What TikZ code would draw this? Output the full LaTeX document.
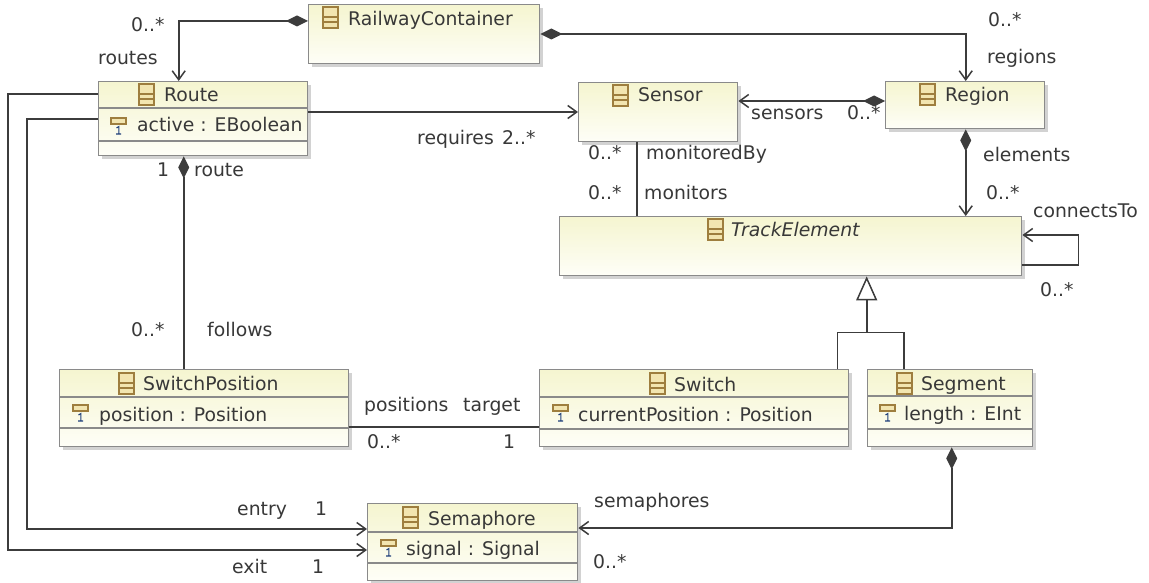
\documentclass[tikz,border=0pt]{standalone}
\usepackage{fontspec}
\setmainfont{DejaVu Sans}
\usetikzlibrary{arrows.meta,shadows}
\definecolor{linec}{HTML}{3C3C3C}
\definecolor{boxc}{HTML}{8A8A8A}
\definecolor{textc}{HTML}{383838}
\definecolor{iconc}{HTML}{9E7E3E}
\definecolor{iconf}{HTML}{F2E5B0}
\definecolor{boxtop}{HTML}{F5F5D0}
\definecolor{boxbot}{HTML}{FEFEF7}
\definecolor{shadowc}{HTML}{D2D2D2}
\definecolor{onec}{HTML}{1F3F7A}
\tikzset{
  cls/.style={draw=boxc, line width=1.4pt, top color=boxtop, bottom color=boxbot,
    inner sep=0pt, anchor=north west,
    drop shadow={shadow xshift=3pt, shadow yshift=-3pt, fill=shadowc, opacity=1}},
  compline/.style={draw=boxc, line width=1.4pt},
  txt/.style={anchor=base west, inner sep=0pt, text=textc},
  conn/.style={draw=linec, line width=1.6pt},
  barb/.style={-{Straight Barb[length=9pt,width=13pt,line width=1.5pt]}},
  compo/.style={{Diamond[length=22pt,width=11pt]}-{Straight Barb[length=9pt,width=13pt,line width=1.5pt]}},
  compoplain/.style={{Diamond[length=22pt,width=11pt]}-},
  gen/.style={-{Triangle[open,length=24pt,width=21pt,fill=white,line width=1.5pt]}},
  icon/.style={draw=iconc, fill=iconf, line width=1.2pt},
}
\newcommand\clsico[1]{\begin{scope}[shift={#1}]
  \draw[icon] (0,0) rectangle (15,21);
  \draw[draw=iconc, line width=1.2pt] (0,10) -- (15,10) (0,15) -- (15,15);
\end{scope}}
\newcommand\attico[1]{\begin{scope}[shift={#1}]
  \draw[icon] (0,0) rectangle (15,6);
  \draw[draw=onec, line width=1.1pt] (5.5,10) -- (7.8,8.6) -- (7.8,16) (5.2,16) -- (10.2,16);
\end{scope}}
\begin{document}
\begin{tikzpicture}[x=1pt,y=-1pt,font=\fontsize{18.8}{22}\selectfont]
\useasboundingbox[fill=white] (0,0) rectangle (1149,583);

% ---------- classes ----------
\node[cls, minimum width=231pt, minimum height=59pt] (rc) at (308,4) {};
\clsico{(323,7)}
\node[txt] (t-rc) at (348,26) {RailwayContainer};

\node[cls, minimum width=209pt, minimum height=74pt] (route) at (98,81) {};
\draw[compline] ([yshift=-27pt]route.north west) -- ([yshift=-27pt]route.north east);
\draw[compline] ([yshift=-60pt]route.north west) -- ([yshift=-60pt]route.north east);
\clsico{(139,84)}
\node[txt] (t-route) at (164,102) {Route};
\attico{(111,118)}
\node[txt] (a-route) at (137,132) {active : EBoolean};

\node[cls, minimum width=159pt, minimum height=59pt] (sensor) at (578,82) {};
\clsico{(613,85)}
\node[txt] (t-sensor) at (638,102) {Sensor};

\node[cls, minimum width=159pt, minimum height=47pt] (region) at (885,81) {};
\clsico{(920,84)}
\node[txt] (t-region) at (945,102) {Region};

\node[cls, minimum width=462pt, minimum height=59pt] (te) at (559,216) {};
\clsico{(708,219)}
\node[txt, font=\fontsize{18.8}{22}\selectfont\itshape] (t-te) at (731,236) {TrackElement};

\node[cls, minimum width=289pt, minimum height=77pt] (swp) at (59,369) {};
\draw[compline] ([yshift=-28pt]swp.north west) -- ([yshift=-28pt]swp.north east);
\draw[compline] ([yshift=-59pt]swp.north west) -- ([yshift=-59pt]swp.north east);
\clsico{(119,373)}
\node[txt] (t-swp) at (143,390) {SwitchPosition};
\attico{(73,405)}
\node[txt] (a-swp) at (99,421) {position : Position};

\node[cls, minimum width=309pt, minimum height=77pt] (sw) at (539,369) {};
\draw[compline] ([yshift=-28pt]sw.north west) -- ([yshift=-28pt]sw.north east);
\draw[compline] ([yshift=-60pt]sw.north west) -- ([yshift=-60pt]sw.north east);
\clsico{(650,373)}
\node[txt] (t-sw) at (674,391) {Switch};
\attico{(553,405)}
\node[txt] (a-sw) at (578,421) {currentPosition : Position};

\node[cls, minimum width=165pt, minimum height=77pt] (seg) at (867,369) {};
\draw[compline] ([yshift=-27pt]seg.north west) -- ([yshift=-27pt]seg.north east);
\draw[compline] ([yshift=-60pt]seg.north west) -- ([yshift=-60pt]seg.north east);
\clsico{(897,373)}
\node[txt] (t-seg) at (921,390) {Segment};
\attico{(880,405)}
\node[txt] (a-seg) at (904,420) {length : EInt};

\node[cls, minimum width=210pt, minimum height=77pt] (sem) at (367,503) {};
\draw[compline] ([yshift=-29pt]sem.north west) -- ([yshift=-29pt]sem.north east);
\draw[compline] ([yshift=-60pt]sem.north west) -- ([yshift=-60pt]sem.north east);
\clsico{(403,507)}
\node[txt] (t-sem) at (428,525) {Semaphore};
\attico{(381,540)}
\node[txt] (a-sem) at (406,555) {signal : Signal};

% ---------- connectors ----------
% routes
\draw[conn, compo] ([yshift=-17pt]rc.north west) -| ([xshift=-24.5pt]route.north);
% regions
\draw[conn, compo] ([yshift=-30pt]rc.north east) -| ([xshift=0.5pt]region.north);
% requires
\draw[conn, barb] ([yshift=-31pt]route.north east) -- ([yshift=-30pt]sensor.north west);
% sensors
\draw[conn, compo] ([yshift=-20pt]region.north west) -- ([yshift=-19pt]sensor.north east);
% monitoredBy / monitors
\draw[conn] ([xshift=-21.5pt]sensor.south) -- ([xshift=-154pt]te.north);
% elements
\draw[conn, compo] ([xshift=0.5pt]region.south) -- ([xshift=175pt]te.north);
% connectsTo
\draw[conn, barb] ([yshift=-49pt]te.north east) -- ++(56,0) |- ([yshift=-19pt]te.north east);
% route / follows
\draw[conn, compoplain] ([xshift=-19.5pt]route.south) -- ([xshift=-20.5pt]swp.north);
% positions / target
\draw[conn] ([yshift=-58pt]swp.north east) -- ([yshift=-58pt]sw.north west);
% generalization
\coordinate (gj) at ([xshift=76pt,yshift=-56pt]te.south);
\draw[conn] ([xshift=-12pt]sw.north east) |- (gj) -| ([xshift=37pt]seg.north west);
\draw[conn, gen] (gj) -- ([xshift=76pt]te.south);
% semaphores
\draw[conn, compo] ([xshift=1.5pt]seg.south) |- ([yshift=-25pt]sem.north east);
% entry
\draw[conn, barb] ([yshift=-38pt]route.north west) -- ++(-71,0) |- ([yshift=-26pt]sem.north west);
% exit
\draw[conn, barb] ([yshift=-13pt]route.north west) -- ++(-90,0) |- ([yshift=-47pt]sem.north west);

% ---------- labels ----------
\node[txt] (l1) at (131,32) {0..*};
\node[txt] (l2) at (98,65) {routes};
\node[txt] (l3) at (988,27) {0..*};
\node[txt] (l4) at (987,64) {regions};
\node[txt] (l5) at (417,145) {requires};
\node[txt] (l6) at (502,145) {2..*};
\node[txt] (l7) at (751,120) {sensors};
\node[txt] (l8) at (847,120) {0..*};
\node[txt] (l9) at (588,160) {0..*};
\node[txt] (l10) at (646,160) {monitoredBy};
\node[txt] (l11) at (588,199) {0..*};
\node[txt] (l12) at (644,199) {monitors};
\node[txt] (l13) at (983,161) {elements};
\node[txt] (l14) at (986,199) {0..*};
\node[txt] (l15) at (1033,217) {connectsTo};
\node[txt] (l16) at (1040,296) {0..*};
\node[txt] (l17) at (157,176) {1};
\node[txt] (l18) at (194,176) {route};
\node[txt] (l19) at (131,336) {0..*};
\node[txt] (l20) at (207,336) {follows};
\node[txt] (l21) at (364,411) {positions};
\node[txt] (l22) at (463,411) {target};
\node[txt] (l23) at (367,448) {0..*};
\node[txt] (l24) at (503,448) {1};
\node[txt] (l25) at (237,515) {entry};
\node[txt] (l26) at (315,515) {1};
\node[txt] (l27) at (232,573) {exit};
\node[txt] (l28) at (312,573) {1};
\node[txt] (l29) at (594,507) {semaphores};
\node[txt] (l30) at (593,568) {0..*};
\end{tikzpicture}
\end{document}
